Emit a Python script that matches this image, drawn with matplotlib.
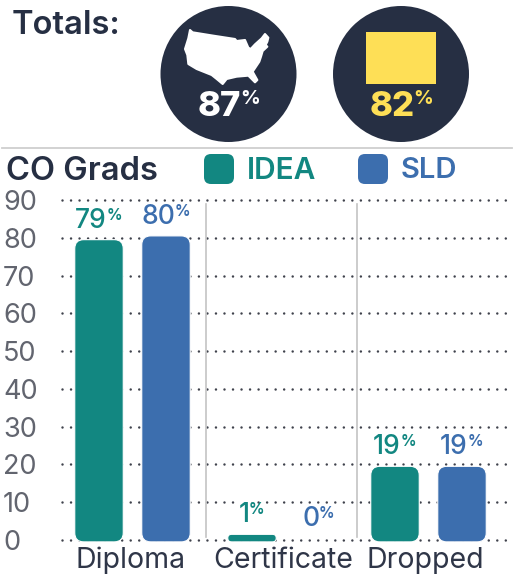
import matplotlib
matplotlib.use("Agg")
import matplotlib.pyplot as plt
from matplotlib.patches import Circle, FancyBboxPatch, Polygon, Rectangle

plt.rcParams['font.family'] = ['Inter', 'DejaVu Sans']

NAVY = '#262f43'
TEAL = '#128781'
BLUE = '#3c6eae'
YELLOW = '#fedf56'
GREY = '#62656f'

groups = ['Diploma', 'Certificate', 'Dropped']
idea = [79, 1, 19]
sld = [80, 0, 19]
labels_idea = ['79', '1', '19']
labels_sld = ['80', '0', '19']
yticks = [0, 10, 20, 30, 40, 50, 60, 70, 80, 90]

# x axis runs in pixels, the groups are not evenly spaced in the original
group_x = [132.5, 285.5, 428.5]
label_x = [130.5, 283, 425]
sep_x = [206, 357]
bar_w = 48.5
bar_off = 33.5

W, H = 519, 574
fig = plt.figure(figsize=(W / 100, H / 100), dpi=100)

# overlay in pixel coords for header things
bg = fig.add_axes([0, 0, 1, 1])
bg.set_xlim(0, W)
bg.set_ylim(H, 0)
bg.axis('off')

ax = fig.add_axes([0, (H - 540) / H, 1, 340 / H], facecolor='none')
ax.set_xlim(0, W)
ax.set_ylim(0, 90)
y_per_px = 90 / 340
for s in ax.spines.values():
    s.set_visible(False)

ax.set_xticks(label_x)
ax.set_xticklabels(groups, fontsize=20.5, color='#2f3648')
ax.set_yticks(yticks)
ax.set_yticklabels([str(v) for v in yticks], fontsize=19.5, color=GREY, ha='left')
ax.tick_params(axis='x', length=0, pad=5)
ax.tick_params(axis='y', length=0, pad=0)
for t in ax.get_yticklabels():
    t.set_x(3 / W)
for t in ax.get_xticklabels():
    t.set_clip_on(False)

for v in yticks:
    ax.plot([62, 507], [v, v], color='#3f424c', lw=1.8, ls=(0, (0.01, 3.4)),
            dash_capstyle='round', zorder=1, clip_on=False)
for x in sep_x:
    ax.plot([x, x], [0.8, 89], color='#c4c4c4', lw=1.2, zorder=1)


def rounded_bar(x, val, color):
    if val <= 0:
        return
    bottom = -0.5
    h = val + 0.5 + 0.5
    r = min(9, h / y_per_px / 2)
    p = FancyBboxPatch((x - bar_w / 2, bottom), bar_w, h,
                       boxstyle='round,pad=0,rounding_size=%f' % r,
                       mutation_aspect=y_per_px, fc=color, ec='white', lw=0.8,
                       zorder=3, clip_on=False)
    ax.add_patch(p)


def pct_label(x, val, s, color):
    y = val + 0.5 + 6 / 340 * 90
    t = ax.text(x - 8, y, s, color=color, fontsize=19, fontweight='medium', ha='center',
                va='bottom', zorder=4, bbox=dict(fc='white', ec='none', pad=1))
    ax.annotate('%', xy=(1, 1), xycoords=t, xytext=(-0.5, 0), textcoords='offset points',
                color=color, fontsize=11, fontweight='bold', ha='left', va='top', zorder=4)


for gx, a, b, la, lb in zip(group_x, idea, sld, labels_idea, labels_sld):
    rounded_bar(gx - bar_off, a, TEAL)
    rounded_bar(gx + bar_off, b, BLUE)
    pct_label(gx - bar_off, a, la, TEAL)
    pct_label(gx + bar_off, b, lb, BLUE)

# header
bg.text(12, 26, 'Totals:', fontsize=23.5, fontweight='semibold', color=NAVY, va='center', ha='left')
bg.add_patch(Circle((228.5, 74), 68, fc=NAVY, ec='none'))
bg.add_patch(Circle((401, 74), 68, fc=NAVY, ec='none'))

us_outline = [(30, 15), (38, 22), (100, 32), (165, 42), (170, 48), (195, 45), (205, 68), (212, 72),
              (225, 58), (245, 40), (255, 27), (265, 38), (262, 50), (257, 60), (262, 65), (248, 78),
              (243, 95), (238, 110), (218, 140), (232, 165), (225, 172), (205, 152), (170, 155),
              (140, 162), (128, 177), (110, 162), (95, 150), (50, 132), (25, 117), (22, 90),
              (15, 72), (25, 40)]
bg.add_patch(Polygon([(180 + x / 3, 25 + y / 3) for x, y in us_outline], fc='white', ec='white',
                     lw=1.5, joinstyle='round'))
bg.add_patch(Rectangle((366, 32), 70, 52, fc=YELLOW, ec='none'))

t1 = bg.text(219.5, 106.5, '87', color='white', fontsize=25, fontweight='heavy', ha='center', va='center')
bg.annotate('%', xy=(1, 1), xycoords=t1, xytext=(-1, 0), textcoords='offset points', color='white',
            fontsize=14, fontweight='bold', ha='left', va='top')
t2 = bg.text(392, 106.5, '82', color=YELLOW, fontsize=25, fontweight='heavy', ha='center', va='center')
bg.annotate('%', xy=(1, 1), xycoords=t2, xytext=(-1, 0), textcoords='offset points', color=YELLOW,
            fontsize=14, fontweight='bold', ha='left', va='top')

bg.plot([2, 512], [148, 148], color='#cfcfcf', lw=1.3)

bg.text(6, 171, 'CO Grads', fontsize=23.5, fontweight='semibold', color=NAVY, va='center', ha='left')
bg.add_patch(FancyBboxPatch((204, 154), 30, 30, boxstyle='round,pad=0,rounding_size=7', fc=TEAL, ec='none'))
bg.add_patch(FancyBboxPatch((358, 154), 30, 30, boxstyle='round,pad=0,rounding_size=7', fc=BLUE, ec='none'))
bg.text(247, 171, 'IDEA', fontsize=21.5, fontweight='semibold', color=TEAL, va='center', ha='left')
bg.text(401, 171, 'SLD', fontsize=21, fontweight='semibold', color=BLUE, va='center', ha='left')

fig.savefig('out.png', dpi=100)
